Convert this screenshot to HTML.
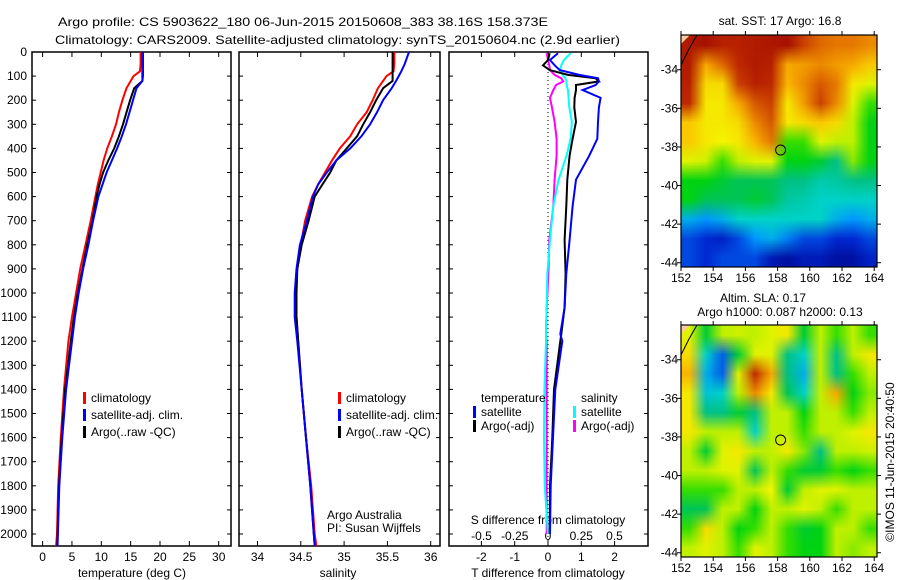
<!DOCTYPE html>
<html><head><meta charset="utf-8"><style>
html,body{margin:0;padding:0;background:#fff;}
#wrap{position:relative;width:900px;height:580px;overflow:hidden;font-family:"Liberation Sans",sans-serif;}
canvas.map{position:absolute;}
svg{position:absolute;left:0;top:0;}
text{font-family:"Liberation Sans",sans-serif;font-size:12px;fill:#000;}
</style></head><body>
<div id="wrap">
<canvas id="sstMap" class="map" width="12" height="12" style="left:681px;top:35px;width:196px;height:232px;"></canvas>
<canvas id="slaMap" class="map" width="12" height="12" style="left:681px;top:325px;width:196px;height:232px;"></canvas>
<svg id="fig" width="900" height="580" xmlns="http://www.w3.org/2000/svg">
<text x="58" y="26" textLength="490" lengthAdjust="spacingAndGlyphs" font-size="13">Argo profile: CS 5903622_180 06-Jun-2015 20150608_383 38.16S 158.373E</text>
<text x="55" y="44" textLength="565" lengthAdjust="spacingAndGlyphs" font-size="13">Climatology: CARS2009. Satellite-adjusted climatology: synTS_20150604.nc (2.9d earlier)</text>
<g id="g"></g>
</svg>
</div>
<script>
// ---------- data ----------
const depthTicks=[0,100,200,300,400,500,600,700,800,900,1000,1100,1200,1300,1400,1500,1600,1700,1800,1900,2000];
const tempTicks=[0,5,10,15,20,25,30];
const salTicks=[34,34.5,35,35.5,36];
const salTickLabels=["34","34.5","35","35.5","36"];
const tdTicks=[-2,-1,0,1,2];
const sdTicks=[-0.5,-0.25,0,0.25,0.5];
const sdTickLabels=["-0.5","-0.25","0","0.25","0.5"];

const profDepth=[0,50,80,100,120,150,200,250,300,350,400,450,500,550,600,700,800,900,1000,1100,1200,1400,1600,1800,2000,2050];
const tempClim=[16.7,16.7,16.6,15.5,15.0,14.3,13.6,13.0,12.5,11.8,11.0,10.4,9.9,9.4,9.0,8.2,7.3,6.4,5.7,5.0,4.4,3.65,3.1,2.65,2.45,2.3];
const tempSat=[17.1,17.1,17.1,17.1,17.0,16.0,15.4,14.8,14.2,13.5,12.7,11.8,10.9,10.2,9.5,8.6,7.8,6.9,6.15,5.5,5.0,4.0,3.35,2.85,2.6,2.55];
const tempArgo=[17.0,17.0,17.0,17.0,17.0,15.6,14.9,14.3,13.7,13.0,12.2,11.2,10.3,9.7,9.2,8.5,7.6,6.8,6.0,5.35,4.8,3.85,3.25,2.8,2.55,2.5];
const salClim=[35.58,35.58,35.57,35.49,35.45,35.39,35.33,35.26,35.15,35.07,34.95,34.86,34.78,34.70,34.63,34.55,34.50,34.46,34.44,34.45,34.47,34.51,34.56,34.62,34.66,34.68];
const salSat=[35.75,35.70,35.66,35.63,35.60,35.55,35.45,35.38,35.30,35.20,35.07,34.91,34.80,34.70,34.64,34.57,34.49,34.45,34.43,34.43,34.46,34.51,34.56,34.61,34.65,34.66];
const salArgo=[35.56,35.56,35.56,35.56,35.56,35.45,35.37,35.30,35.22,35.15,35.03,34.91,34.84,34.75,34.66,34.59,34.51,34.46,34.45,34.45,34.47,34.51,34.56,34.61,34.65,34.66];

const diffDepth=[5,33,55,75,95,109,122,137,158,190,230,290,360,430,530,640,780,920,1060,1170,1200,1400,1600,1800,2000];
const tDiffSat=[0.30,0.06,0.2,0.35,0.94,1.50,1.53,1.43,1.04,1.58,1.53,1.50,1.48,1.24,0.84,0.74,0.65,0.55,0.50,0.37,0.43,0.22,0.15,0.08,0.06];
const tDiffArgo=[0.05,0.0,-0.15,0.05,0.6,1.43,1.53,0.84,0.84,0.80,0.79,0.84,0.74,0.65,0.58,0.55,0.50,0.53,0.50,0.40,0.37,0.18,0.13,0.06,0.05];
const sDiffSat=[0.17,0.12,0.10,0.09,0.11,0.13,0.14,0.14,0.15,0.155,0.16,0.18,0.17,0.14,0.08,0.04,0.015,-0.005,-0.01,-0.015,-0.015,-0.027,-0.03,-0.025,0];
const sDiffArgo=[-0.01,0.0,0.01,0.015,0.05,0.10,0.115,0.06,0.04,0.015,0.03,0.05,0.065,0.065,0.05,0.04,0.01,0.003,-0.01,-0.015,-0.01,-0.01,-0.01,-0.01,-0.01];

const lonTicks=[152,154,156,158,160,162,164];
const latTicks=[-34,-36,-38,-40,-42,-44];
const argoLon=158.373, argoLat=-38.16;
const sstGrid=[
[0.92,0.95,0.9,0.9,0.92,0.93,0.95,0.85,0.8,0.78,0.78,0.75],
[0.92,0.7,0.8,0.88,0.92,0.9,0.7,0.72,0.75,0.72,0.7,0.65],
[0.9,0.62,0.62,0.85,0.9,0.88,0.68,0.75,0.82,0.78,0.6,0.55],
[0.88,0.6,0.6,0.7,0.82,0.85,0.6,0.72,0.85,0.75,0.55,0.45],
[0.65,0.6,0.6,0.62,0.75,0.82,0.6,0.62,0.65,0.62,0.5,0.42],
[0.65,0.6,0.58,0.6,0.68,0.78,0.45,0.45,0.55,0.5,0.5,0.42],
[0.55,0.52,0.45,0.5,0.55,0.55,0.42,0.42,0.4,0.35,0.48,0.42],
[0.42,0.42,0.4,0.38,0.38,0.38,0.35,0.35,0.32,0.33,0.35,0.35],
[0.42,0.38,0.38,0.38,0.4,0.38,0.33,0.32,0.3,0.3,0.3,0.3],
[0.25,0.22,0.25,0.3,0.3,0.3,0.3,0.3,0.3,0.25,0.22,0.25],
[0.15,0.12,0.1,0.15,0.22,0.25,0.2,0.15,0.15,0.12,0.12,0.15],
[0.15,0.12,0.15,0.15,0.15,0.08,0.05,0.08,0.08,0.05,0.05,0.1]];
const slaGrid=[
[0.55,0.4,0.5,0.52,0.5,0.55,0.6,0.4,0.5,0.45,0.5,0.45],
[0.62,0.3,0.17,0.4,0.55,0.55,0.35,0.3,0.5,0.35,0.5,0.6],
[0.68,0.25,0.17,0.55,0.88,0.7,0.35,0.25,0.5,0.35,0.45,0.5],
[0.6,0.28,0.3,0.5,0.75,0.6,0.38,0.3,0.5,0.7,0.42,0.48],
[0.6,0.35,0.35,0.4,0.35,0.5,0.5,0.42,0.5,0.5,0.45,0.5],
[0.6,0.5,0.5,0.5,0.3,0.5,0.5,0.45,0.5,0.5,0.55,0.6],
[0.5,0.4,0.55,0.6,0.5,0.5,0.6,0.48,0.35,0.5,0.5,0.52],
[0.5,0.5,0.55,0.55,0.38,0.5,0.45,0.4,0.4,0.45,0.42,0.45],
[0.45,0.45,0.45,0.5,0.5,0.58,0.4,0.5,0.55,0.55,0.5,0.5],
[0.38,0.38,0.5,0.5,0.42,0.5,0.5,0.55,0.5,0.45,0.5,0.5],
[0.45,0.62,0.5,0.42,0.45,0.5,0.45,0.4,0.42,0.5,0.5,0.45],
[0.5,0.55,0.5,0.45,0.55,0.5,0.45,0.42,0.42,0.5,0.48,0.5]];

// ---------- helpers ----------
const NS="http://www.w3.org/2000/svg";
const G=document.getElementById('g');
function mk(tag,attrs,parent){const e=document.createElementNS(NS,tag);for(const k in attrs)e.setAttribute(k,attrs[k]);(parent||G).appendChild(e);return e;}
function txt(x,y,s,anchor,size){const t=mk('text',{x:x,y:y,'text-anchor':anchor||'start','font-size':size||12});t.textContent=s;return t;}
const yD=d=>52+d*0.241;
const xT=v=>42.6+v*5.87;
const xS=v=>257.5+(v-34)*86.6;
const xTD=v=>548+v*33.3;
const xSD=v=>548+v*133;
const PT=52,PB=546;

function frame(l,r,name){const f=mk('rect',{x:l,y:PT,width:r-l,height:PB-PT,fill:'none',stroke:'#000','stroke-width':1.5});}
function line(xs,ds,fx,color,w,name){const pts=xs.map((v,i)=>fx(v).toFixed(1)+','+yD(ds[i]).toFixed(1)).join(' ');const p=mk('polyline',{points:pts,fill:'none',stroke:color,'stroke-width':w,'stroke-linejoin':'miter'});}
function legend(x,y,color,label,name){const b=mk('rect',{x:x,y:y-10,width:3,height:12,fill:color});const t=txt(x+8,y,label);}

depthTicks.forEach(d=>{const t=txt(27,yD(d)+4,String(d),'end');
 [[32,1],[231,-1],[239,1],[440,-1],[449,1],[648,-1]].forEach(([x,s])=>{const k=mk('line',{x1:x,x2:x+4*s,y1:yD(d),y2:yD(d),stroke:'#000','stroke-width':1});});});

frame(32,231,'temperature-panel');
tempTicks.forEach(v=>{[PT,PB].forEach((y,i)=>{const k=mk('line',{x1:xT(v),x2:xT(v),y1:y,y2:y+(i?-5:5),stroke:'#000'});});
 const t=txt(xT(v),561,String(v),'middle');});
const tt1=txt(132,577,'temperature (deg C)','middle');
line(tempClim,profDepth,xT,'#f00',2,'temp-climatology-line');
line(tempArgo,profDepth,xT,'#000',2,'temp-argo-line');
line(tempSat,profDepth,xT,'#00f',2,'temp-satellite-line');
legend(83,402,'#f00','climatology','temp-legend-climatology');
legend(83,419,'#00f','satellite-adj. clim.','temp-legend-satellite');
legend(83,436,'#000','Argo(..raw -QC)','temp-legend-argo');

frame(239,440,'salinity-panel');
salTicks.forEach((v,i)=>{[PT,PB].forEach((y,j)=>{const k=mk('line',{x1:xS(v),x2:xS(v),y1:y,y2:y+(j?-5:5),stroke:'#000'});});
 const t=txt(xS(v),561,salTickLabels[i],'middle');});
const tt2=txt(338,577,'salinity','middle');
line(salClim,profDepth,xS,'#f00',2,'sal-climatology-line');
line(salArgo,profDepth,xS,'#000',2,'sal-argo-line');
line(salSat,profDepth,xS,'#00f',2,'sal-satellite-line');
legend(338,402,'#f00','climatology','sal-legend-climatology');
legend(338,419,'#00f','satellite-adj. clim.','sal-legend-satellite');
legend(338,436,'#000','Argo(..raw -QC)','sal-legend-argo');
const a1=txt(327,519,'Argo Australia');
const a2=txt(327,532,'PI: Susan Wijffels');

frame(449,648,'difference-panel');
const zl=mk('line',{x1:548,x2:548,y1:PT,y2:PB,stroke:'#000','stroke-width':1,'stroke-dasharray':'1,3'});
tdTicks.forEach(v=>{[PT,PB].forEach((y,j)=>{const k=mk('line',{x1:xTD(v),x2:xTD(v),y1:y,y2:y+(j?-5:5),stroke:'#000'});});
 const t=txt(xTD(v),561,String(v),'middle');});
sdTicks.forEach((v,i)=>{const t=txt(xSD(v),540,sdTickLabels[i],'middle');});
const tt3=txt(548,577,'T difference from climatology','middle');
const tt4=txt(548,524,'S difference from climatology','middle');
line(sDiffArgo,diffDepth,xSD,'#f0f',2,'sdiff-argo-line');
line(sDiffSat,diffDepth,xSD,'#0ff',2,'sdiff-satellite-line');
line(tDiffArgo,diffDepth,xTD,'#000',2,'tdiff-argo-line');
line(tDiffSat,diffDepth,xTD,'#00f',2,'tdiff-satellite-line');
const lt=txt(481,402,'temperature');
const ls=txt(581,402,'salinity');
legend(473,416,'#00f','satellite','tdiff-legend-satellite');
legend(473,430,'#000','Argo(-adj)','tdiff-legend-argo');
legend(573,416,'#0ff','satellite','sdiff-legend-satellite');
legend(573,430,'#f0f','Argo(-adj)','sdiff-legend-argo');

const cmapStops=[[0,[0,0,130]],[0.12,[0,40,210]],[0.22,[0,150,255]],[0.3,[0,210,200]],[0.36,[0,190,120]],[0.43,[0,215,0]],[0.5,[190,240,0]],[0.58,[245,245,0]],[0.68,[250,180,0]],[0.78,[230,120,0]],[0.88,[190,40,0]],[1,[150,0,0]]];
function cmap(v){for(let i=1;i<cmapStops.length;i++){if(v<=cmapStops[i][0]){const [a,ca]=cmapStops[i-1],[b,cb]=cmapStops[i];const t=(v-a)/(b-a);return ca.map((c,k)=>Math.round(c+(cb[k]-c)*t));}}return cmapStops[cmapStops.length-1][1];}
function drawMap(id,grid){const c=document.getElementById(id),ctx=c.getContext('2d');const img=ctx.createImageData(12,12);grid.forEach((row,r)=>row.forEach((v,k)=>{const col=cmap(v),o=(r*12+k)*4;img.data[o]=col[0];img.data[o+1]=col[1];img.data[o+2]=col[2];img.data[o+3]=255;}));ctx.putImageData(img,0,0);}
drawMap('sstMap',sstGrid);drawMap('slaMap',slaGrid);

const mL=681,mR=877,mW=196,mH=232;
const xLon=v=>mL+(v-152)*16.1;
function mapAxes(top,name){
 const yLat=v=>top+(-32.2-v)*19.3;
 const land=mk('polygon',{points:`${mL},${top} ${mL+9},${top} ${mL},${top+9}`,fill:'#fcc9a0'});
 const coast=mk('polyline',{points:`${mL+16},${top} ${mL+8},${top+14} ${mL},${top+30}`,fill:'none',stroke:'#000','stroke-width':1});
 const f=mk('rect',{x:mL,y:top,width:mW,height:mH,fill:'none',stroke:'#000','stroke-width':1.2});
 lonTicks.forEach(v=>{[[top,-4],[top+mH,4]].forEach(([y,s])=>{const k=mk('line',{x1:xLon(v),x2:xLon(v),y1:y,y2:y+s,stroke:'#000'});});
  const t=txt(xLon(v),top+mH+15,String(v),'middle');});
 latTicks.forEach(v=>{[[mL,-4],[mR,4]].forEach(([x,s])=>{const k=mk('line',{x1:x,x2:x+s,y1:yLat(v),y2:yLat(v),stroke:'#000'});});
  const t=txt(mL-3,yLat(v)+4,String(v),'end');});
 const c=mk('circle',{cx:xLon(argoLon)-3,cy:yLat(argoLat),r:5,fill:'none',stroke:'#000','stroke-width':1});
}
mapAxes(35,'sst-map');
mapAxes(325,'sla-map');
const m1=txt(780,25,'sat. SST: 17 Argo: 16.8','middle');
const m2=txt(763,302,'Altim. SLA: 0.17','middle');
const m3=txt(780,316,'Argo h1000: 0.087 h2000: 0.13','middle');
const cr=txt(0,0,'\u00A9IMOS 11-Jun-2015 20:40:50','middle');cr.setAttribute('transform','translate(894,462) rotate(-90)');
</script>
</body></html>
